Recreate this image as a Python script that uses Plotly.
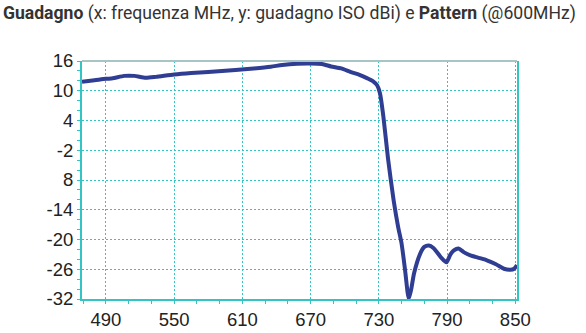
import plotly.graph_objects as go

freq = [469, 480, 490, 496, 506, 515, 525, 534, 550, 565, 580, 604, 620, 635, 645, 658, 670, 680,
        688, 697, 705, 713, 720, 725, 728.5, 731, 734, 738, 743, 747, 750, 753, 756.3, 758.5,
        761, 766.5, 770, 774, 778, 781, 785, 789.4, 793, 796, 800, 805, 810.5, 818, 825, 833,
        840, 845.6, 849, 851.5]
gain = [11.8, 12.1, 12.4, 12.5, 13.0, 13.0, 12.6, 12.8, 13.3, 13.6, 13.8, 14.2, 14.5, 14.85, 15.2,
        15.45, 15.5, 15.4, 14.9, 14.5, 13.8, 13.2, 12.5, 11.9, 11.1, 9.5, 4.8, -3.5, -12.1, -17.5,
        -20.8, -26.0, -31.9, -30.0, -26.8, -22.8, -21.5, -21.2, -21.7, -22.5, -23.7, -24.6, -23.0,
        -22.2, -21.8, -22.6, -23.2, -23.7, -24.2, -25.0, -25.9, -26.1, -25.9, -25.2]

y_tickvals = [16, 10, 4, -2, -8, -14, -20, -26, -32]
y_ticktext = ["16", "10", "4", "-2", "8", "-14", "-20", "-26", "-32"]
x_tickvals = [490, 550, 610, 670, 730, 790, 850]

grid_col = "#33c4c4"

fig = go.Figure()
fig.add_trace(go.Scatter(
    x=freq, y=gain, mode="lines",
    line=dict(color="#2f3d92", width=4, shape="spline", smoothing=0.6),
    hoverinfo="skip", showlegend=False,
))

fig.update_layout(
    width=586, height=333,
    margin=dict(l=82, r=69, t=61, b=34),
    paper_bgcolor="white", plot_bgcolor="white",
    title=dict(
        text="<b>Guadagno</b> (x: frequenza MHz, y: guadagno ISO dBi) e <b>Pattern</b> (@600MHz)",
        x=0.005, xanchor="left", y=0.962, yanchor="middle",
        font=dict(family="Roboto", size=17.6, color="#333333"),
    ),
    font=dict(family="Liberation Sans, Arial", color="#222222"),
)

fig.update_xaxes(
    range=[469, 851.5], tickvals=x_tickvals, automargin=False,
    tickfont=dict(size=18.5, color="#222222"),
    showgrid=True, gridcolor=grid_col, griddash="2px,2px", gridwidth=1.3,
    showline=True, linecolor=grid_col, linewidth=2,
    ticks="outside", ticklen=3, tickcolor=grid_col,
    minor=dict(ticks="outside", ticklen=3, tickcolor=grid_col, tick0=470, dtick=20, showgrid=False),
    zeroline=False,
)
fig.update_yaxes(
    range=[-32, 16], tickvals=y_tickvals, ticktext=y_ticktext, automargin=False,
    tickfont=dict(size=18.5, color="#222222"),
    showgrid=True, gridcolor=grid_col, griddash="2px,2px", gridwidth=1.3,
    showline=True, linecolor=grid_col, linewidth=2, mirror=True,
    ticks="outside", ticklen=3, tickcolor=grid_col,
    minor=dict(ticks="outside", ticklen=3, tickcolor=grid_col, tick0=-32, dtick=2, showgrid=False),
    zeroline=False,
)

fig.add_shape(type="line", xref="paper", yref="paper", x0=0, x1=1, y0=1, y1=1,
              line=dict(color="#a9c4c4", width=2))

fig.write_html("out.html")
